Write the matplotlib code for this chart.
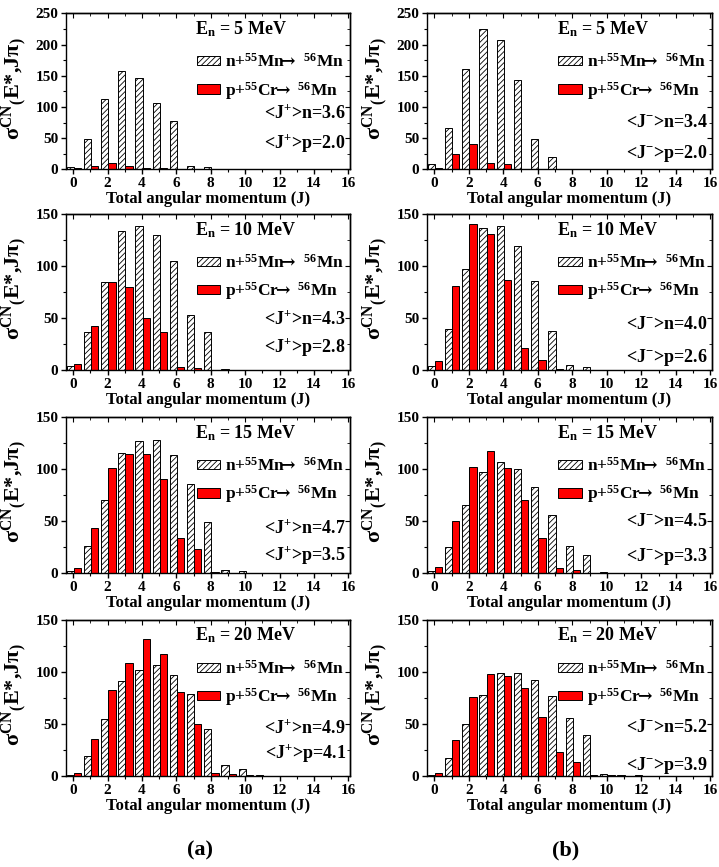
import numpy as np
import matplotlib.pyplot as plt
from matplotlib.ticker import MultipleLocator

plt.rcParams['font.family'] = ['Liberation Serif', 'DejaVu Serif']
plt.rcParams['font.weight'] = 'bold'
plt.rcParams['mathtext.fontset'] = 'dejavuserif'
plt.rcParams['mathtext.default'] = 'regular'
plt.rcParams['hatch.linewidth'] = 0.6
plt.rcParams['axes.linewidth'] = 1.0

# --------------------------------
# DATA  (J = 0..16)
# --------------------------------
J = np.arange(0, 17)

# (a) positive parity
a5_n = [4, 48, 112, 158, 146, 107, 78, 5, 4, 1, 0.5, 0, 0, 0, 0, 0, 0]
a5_p = [2, 6, 10, 6, 2, 1.5, 0.5, 0, 0, 0, 0, 0, 0, 0, 0, 0, 0]
a10_n = [3.5, 37, 85, 134, 139, 130, 105, 53, 37, 1, 0.5, 0, 0, 0, 0, 0, 0]
a10_p = [6, 42, 85, 80, 50, 37, 3, 1.5, 0.5, 0, 0, 0, 0, 0, 0, 0, 0]
a15_n = [2, 26, 70, 116, 127, 128, 114, 86, 49, 3, 2, 0.5, 0, 0, 0, 0, 0]
a15_p = [5, 44, 101, 115, 115, 91, 34, 23, 1, 0.5, 0, 0, 0, 0, 0, 0, 0]
a20_n = [1.3, 19, 55, 91, 102, 107, 97, 79, 45, 10.5, 6.7, 0.5, 0, 0, 0, 0, 0]
a20_p = [2.6, 36, 83, 109, 132, 117, 81, 50, 3.2, 1.5, 0.5, 0, 0, 0, 0, 0, 0]

# (b) negative parity
b5_n = [9, 66, 161, 225, 207, 143, 49, 19, 0.5, 0.5, 0.3, 0, 0, 0, 0, 0, 0]
b5_p = [1.5, 25, 41, 10, 8, 0.5, 0.5, 0, 0, 0, 0, 0, 0, 0, 0, 0, 0]
b10_n = [4, 39, 97, 137, 139, 119, 86, 38, 5, 3, 0.5, 0, 0, 0, 0, 0, 0]
b10_p = [9, 81, 140, 131, 87, 21, 10, 1, 0.5, 0, 0, 0, 0, 0, 0, 0, 0]
b15_n = [2, 25, 66, 97, 107, 100, 83, 56, 26, 18, 1, 0.5, 0, 0, 0, 0, 0]
b15_p = [6, 50, 102, 118, 101, 70, 34, 5, 3, 0.5, 0, 0, 0, 0, 0, 0, 0]
b20_n = [1, 17, 50, 78, 99, 99, 92, 77, 56, 39, 1.6, 1.3, 0.5, 0, 0, 0, 0]
b20_p = [2.6, 35, 76, 98, 96, 85, 57, 23, 13, 0.6, 0.5, 0, 0, 0, 0, 0, 0]

energies = [5, 10, 15, 20]
ymax = [250, 150, 150, 150]

col_a_n = [a5_n, a10_n, a15_n, a20_n]
col_a_p = [a5_p, a10_p, a15_p, a20_p]
col_b_n = [b5_n, b10_n, b15_n, b20_n]
col_b_p = [b5_p, b10_p, b15_p, b20_p]

mean_a_n = [3.6, 4.3, 4.7, 4.9]
mean_a_p = [2.0, 2.8, 3.5, 4.1]
mean_b_n = [3.4, 4.0, 4.5, 5.2]
mean_b_p = [2.0, 2.6, 3.3, 3.9]

# --------------------------------
# LAYOUT
# --------------------------------
col_x = [0.0918, 0.5939]
col_w = [0.395, 0.3964]
row_b = [0.8047, 0.5732, 0.3388, 0.1050]
row_h = 0.1799

# y positions of the <J> texts per panel
txt_y_a = [(0.36, 0.17), (0.33, 0.15), (0.29, 0.115), (0.31, 0.15)]
txt_y_b = [(0.30, 0.10), (0.29, 0.08), (0.33, 0.105), (0.31, 0.07)]

fig = plt.figure(figsize=(7.19, 8.67), dpi=100)

W = 0.42
ARROW = r'$\!\!\mathbf{{\rightarrow}}$'


def panel(ax, n_vals, p_vals, top, En, sign, mn, mp, ty):
    ax.bar(J - 0.17, n_vals, width=W, facecolor='white', edgecolor='black',
           hatch='//////', linewidth=0.7,
           label=r'n+$^{55}$Mn' + ARROW + r' $^{56}$Mn')
    ax.bar(J + 0.25, p_vals, width=W, facecolor='red', edgecolor='black',
           linewidth=0.7, label=r'p+$^{55}$Cr' + ARROW + r' $^{56}$Mn')
    ax.set_xlim(-0.42, 16.1)
    ax.set_ylim(0, top)
    ax.xaxis.set_major_locator(MultipleLocator(2))
    ax.xaxis.set_minor_locator(MultipleLocator(1))
    ax.yaxis.set_major_locator(MultipleLocator(50))
    ax.yaxis.set_minor_locator(MultipleLocator(25))
    ax.tick_params(which='major', direction='out', length=3.5, width=1,
                   labelsize=11, pad=2)
    ax.tick_params(which='minor', direction='out', length=2, width=0.8)
    for lab in ax.get_xticklabels() + ax.get_yticklabels():
        lab.set_fontweight('bold')

    sy = ax.secondary_yaxis('right')
    sy.yaxis.set_major_locator(MultipleLocator(50))
    sy.yaxis.set_minor_locator(MultipleLocator(25))
    sy.tick_params(which='both', direction='in', labelright=False)
    sy.tick_params(which='major', length=3.5)
    sy.tick_params(which='minor', length=2)
    sx = ax.secondary_xaxis('top')
    sx.xaxis.set_major_locator(MultipleLocator(2))
    sx.xaxis.set_minor_locator(MultipleLocator(1))
    sx.tick_params(which='both', direction='in', labeltop=False)
    sx.tick_params(which='major', length=3.5)
    sx.tick_params(which='minor', length=2)

    ax.set_xlabel('Total angular momentum (J)', fontsize=12,
                  fontweight='bold', labelpad=1)
    ax.set_ylabel(r'σ$^{CN}$$_{(}$E*,Jπ$_{)}$', fontsize=16,
                  fontweight='bold')
    ax.yaxis.set_label_coords(-0.13, 0.52)

    ax.text(0.455, 0.90, r'E$_{n}$ = %d MeV' % En, transform=ax.transAxes,
            fontsize=13, fontweight='bold', ha='left', va='center')
    ax.legend(loc='center left', bbox_to_anchor=(0.46, 0.59), frameon=False,
              prop={'size': 12.5, 'weight': 'bold'}, handlelength=1.35,
              handleheight=0.45, handletextpad=0.3, labelspacing=0.5,
              borderaxespad=0, borderpad=0)
    ax.text(0.985, ty[0], r'<J$^{%s}$>n=%.1f' % (sign, mn),
            transform=ax.transAxes, fontsize=13, fontweight='bold',
            ha='right', va='center')
    ax.text(0.985, ty[1], r'<J$^{%s}$>p=%.1f' % (sign, mp),
            transform=ax.transAxes, fontsize=13, fontweight='bold',
            ha='right', va='center')


for i in range(4):
    axa = fig.add_axes([col_x[0], row_b[i], col_w[0], row_h])
    panel(axa, col_a_n[i], col_a_p[i], ymax[i], energies[i], '+',
          mean_a_n[i], mean_a_p[i], txt_y_a[i])
    axb = fig.add_axes([col_x[1], row_b[i], col_w[1], row_h])
    panel(axb, col_b_n[i], col_b_p[i], ymax[i], energies[i], '-',
          mean_b_n[i], mean_b_p[i], txt_y_b[i])

fig.text(0.278, 0.0196, '(a)', fontsize=16, fontweight='bold',
         ha='center', va='center')
fig.text(0.787, 0.0196, '(b)', fontsize=16, fontweight='bold',
         ha='center', va='center')

fig.savefig('out.png', dpi=100)
plt.close(fig)
